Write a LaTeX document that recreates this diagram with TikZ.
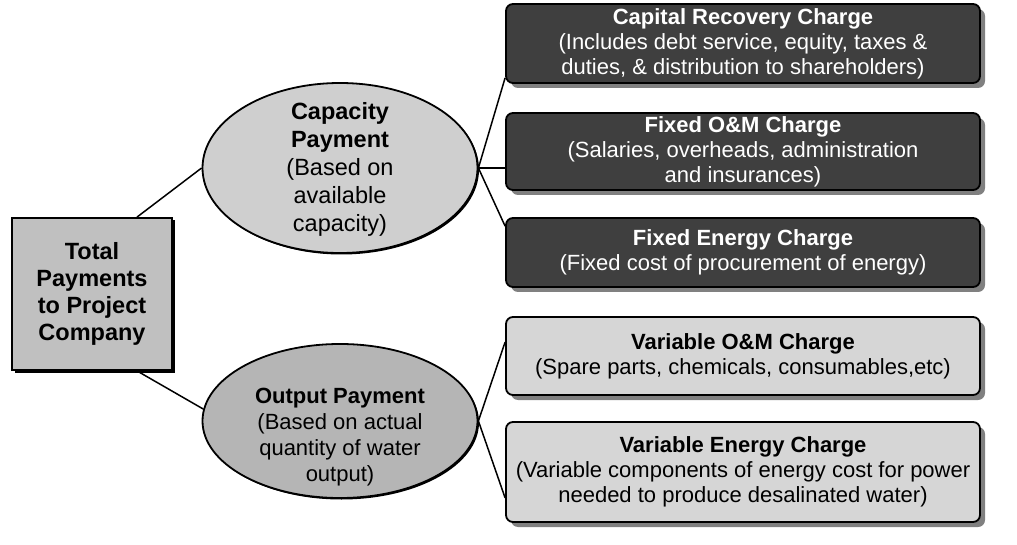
\documentclass[tikz,border=0pt]{standalone}
\usepackage{fontspec}
\setmainfont{Liberation Sans}
\usetikzlibrary{shapes.geometric,shadows}

\definecolor{darkfill}{HTML}{3F3F3F}
\definecolor{lightfill}{HTML}{D6D6D6}
\definecolor{totfill}{HTML}{C0C0C0}
\definecolor{capfill}{HTML}{CFCFCF}
\definecolor{outfill}{HTML}{B5B5B5}
\definecolor{shadowgray}{HTML}{808080}

\def\totfont{\fontsize{23.5}{27}\selectfont}
\def\capfont{\fontsize{23.5}{28}\selectfont}
\def\outfont{\fontsize{22}{26}\selectfont}
\def\chargefont{\fontsize{22}{25}\selectfont}

\begin{document}
\begin{tikzpicture}[x=1pt, y=-1pt,
    every node/.style={align=center, inner sep=0pt},
    chargebox/.style={draw=black, line width=1.8pt, rounded corners=7pt,
      minimum width=474pt, font=\chargefont,
      drop shadow={shadow xshift=5pt, shadow yshift=-5pt, fill=shadowgray, opacity=1}},
    darkbox/.style={chargebox, fill=darkfill, text=white},
    lightbox/.style={chargebox, fill=lightfill},
    payellipse/.style={ellipse, draw=black, line width=1.8pt, minimum width=275pt,
      drop shadow={shadow xshift=1.5pt, shadow yshift=-1.5pt, fill=black, opacity=1}},
    link/.style={line width=1.5pt}]
  \useasboundingbox (0,0) rectangle (1017,545);

  % root box
  \node[draw, line width=1.8pt, fill=totfill, minimum width=160pt, minimum height=152pt,
    font=\totfont\bfseries,
    drop shadow={shadow xshift=2.5pt, shadow yshift=-2.5pt, fill=black, opacity=1}]
    (tot) at (92,294) {Total\\Payments\\to Project\\Company};

  % the two payments
  \node[payellipse, fill=capfill, minimum height=170pt] (cap) at (340,168) {};
  \node[font=\capfont] (capText) at ([yshift=-1pt]cap.center)
    {\textbf{Capacity}\\\textbf{Payment}\\(Based on\\available\\capacity)};
  \node[payellipse, fill=outfill, minimum height=154pt] (out) at (340,421) {};
  \node[font=\outfont] (outText) at ([yshift=-16pt]out.center)
    {\textbf{Output Payment}\\(Based on actual\\quantity of water\\output)};

  % charges
  \node[darkbox, minimum height=79pt] (crc) at (743,43.5)
    {\textbf{Capital Recovery Charge}\\(Includes debt service, equity, taxes \&\\duties, \& distribution to shareholders)};
  \node[darkbox, minimum height=77pt] (fom) at (743,151.5)
    {\textbf{Fixed O\&M Charge}\\(Salaries, overheads, administration\\and insurances)};
  \node[darkbox, minimum height=69pt] (fec) at (743,252.5)
    {\textbf{Fixed Energy Charge}\\(Fixed cost of procurement of energy)};
  \node[lightbox, minimum height=78pt] (vom) at (743,356)
    {\textbf{Variable O\&M Charge}\\(Spare parts, chemicals, consumables,etc)};
  \node[lightbox, minimum height=100pt] (vec) at (743,472)
    {\textbf{Variable Energy Charge}\\(Variable components of energy cost for power\\needed to produce desalinated water)};

  % connectors
  \draw[link] ([xshift=45pt]tot.north) -- (cap.west);
  \draw[link] ([xshift=45pt]tot.south) -- (out.175);
  \draw[link] (cap.east) -- ([yshift=6pt]crc.south west);
  \draw[link] (cap.east) -- (cap.east -| fom.west);
  \draw[link] (cap.east) -- ([yshift=-9pt]fec.north west);
  \draw[link] (out.east) -- ([yshift=-26pt]vom.north west);
  \draw[link] (out.east) -- ([yshift=25pt]vec.south west);
\end{tikzpicture}
\end{document}
